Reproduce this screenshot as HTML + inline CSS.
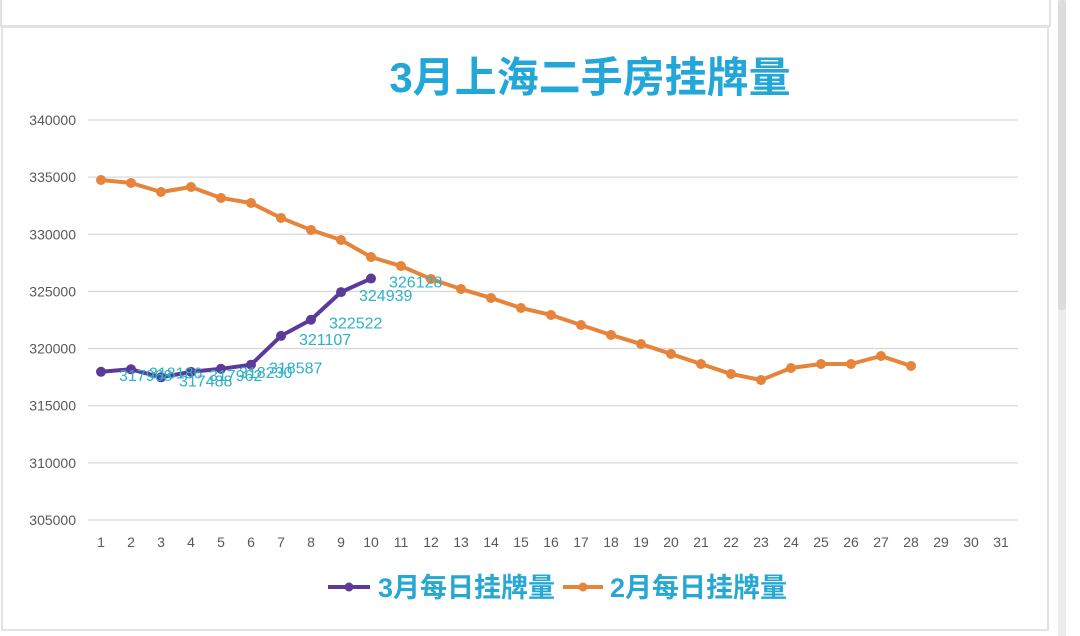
<!DOCTYPE html>
<html><head><meta charset="utf-8"><style>
body{margin:0;background:#fff;width:1080px;height:636px;overflow:hidden;font-family:"Liberation Sans","Noto Sans CJK SC",sans-serif}
svg{position:absolute;left:0;top:0}
</style></head><body>
<svg width="1080" height="636">
<rect x="1" y="-2" width="1049" height="28" fill="#fff" stroke="#e2e2e2" stroke-width="2"/>
<rect x="2" y="27" width="1046" height="603" fill="#fff" stroke="#e2e2e2" stroke-width="2"/>
<rect x="1058" y="0" width="8" height="636" fill="#ececec"/>
<rect x="1058" y="0" width="8" height="310" fill="#dcdcdc" rx="3"/>
<text x="590" y="92" text-anchor="middle" font-size="42" font-weight="bold" fill="#22a7d8" font-family="Liberation Sans,Noto Sans CJK SC,sans-serif">3月上海二手房挂牌量</text>
<g id="grid"></g><g id="ylab"></g><g id="xlab"></g><g id="series"></g><g id="labels"></g>
<g>
<line x1="328" y1="587" x2="370" y2="587" stroke="#5b3a9a" stroke-width="4"/>
<circle cx="349" cy="587" r="4.5" fill="#5b3a9a"/>
<text x="378" y="597" font-size="27" font-weight="bold" fill="#26a8d3">3月每日挂牌量</text>
<line x1="563" y1="587" x2="603" y2="587" stroke="#e5843a" stroke-width="4"/>
<circle cx="583" cy="587" r="4.5" fill="#e5843a"/>
<text x="610" y="597" font-size="27" font-weight="bold" fill="#26a8d3">2月每日挂牌量</text>
</g>
</svg>
<script>
const days=[1,2,3,4,5,6,7,8,9,10,11,12,13,14,15,16,17,18,19,20,21,22,23,24,25,26,27,28,29,30,31];
const yTicks=[305000,310000,315000,320000,325000,330000,335000,340000];
const marchValues=[317968,318186,317488,317962,318230,318587,321107,322522,324939,326128];
const febValues=[334750,334490,333700,334140,333180,332740,331430,330380,329500,328010,327220,326090,325210,324430,323550,322940,322060,321190,320400,319530,318650,317780,317250,318300,318650,318650,319350,318480];
const NS="http://www.w3.org/2000/svg";
const xs=d=>101+(d-1)*30;
const ys=v=>520-(v-305000)*400/35000;
function mk(tag,attrs,parent,txt){const e=document.createElementNS(NS,tag);for(const k in attrs)e.setAttribute(k,attrs[k]);if(txt!==undefined)e.textContent=txt;document.getElementById(parent).appendChild(e);return e;}
yTicks.forEach(t=>{
 const l=mk('line',{x1:88,x2:1018,y1:ys(t),y2:ys(t),stroke:'#d9d9d9','stroke-width':1.3},'grid');
 
 
 const tx=mk('text',{x:76,y:ys(t)+5,'text-anchor':'end','font-size':14,fill:'#595959'},'ylab',t);
 
 
});
days.forEach(d=>{
 const tx=mk('text',{x:xs(d),y:547,'text-anchor':'middle','font-size':14,fill:'#595959'},'xlab',d);
 
 
});
function series(vals,color,name){
 const p=mk('polyline',{points:vals.map((v,i)=>xs(i+1)+','+ys(v)).join(' '),fill:'none',stroke:color,'stroke-width':4,'stroke-linejoin':'round'},'series');
 
 
 vals.forEach((v,i)=>{
  const c=mk('circle',{cx:xs(i+1),cy:ys(v),r:5,fill:color},'series');
  
  
 });
}
series(febValues,'#e5843a','feb-series');
series(marchValues,'#5b3a9a','march-series');
marchValues.forEach((v,i)=>{
 const t=mk('text',{x:xs(i+1)+18,y:ys(v)+9,'font-size':16,fill:'#2fb0c6'},'labels',v);
 
 
});
</script>
</body></html>
